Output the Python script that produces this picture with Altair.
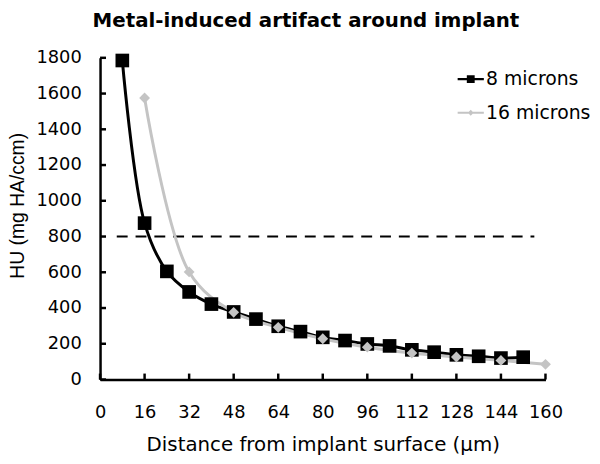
import altair as alt
import pandas as pd

x8 = [8, 16, 24, 32, 40, 48, 56, 64, 72, 80, 88, 96, 104, 112, 120, 128, 136, 144, 152]
y8 = [1785, 875, 605, 490, 422, 378, 338, 298, 268, 236, 218, 199, 188, 166, 153, 138, 130, 120, 125]
x16 = [16, 32, 48, 64, 80, 96, 112, 128, 144, 160]
y16 = [1575, 602, 376, 292, 228, 181, 148, 126, 107, 85]
series = ["8 microns", "16 microns"]
threshold = 800
thr_x = [6, 156]
x_ticks = list(range(0, 161, 16))
y_ticks = list(range(0, 1801, 200))

df = pd.DataFrame(
    {"x": x8 + x16, "y": y8 + y16, "s": [series[0]] * len(x8) + [series[1]] * len(x16)}
)
thr = pd.DataFrame({"x": thr_x, "y": [threshold, threshold]})
xt = pd.DataFrame({"x": x_ticks})
yt = pd.DataFrame({"y": y_ticks})

font = "DejaVu Sans"
font2 = "Liberation Sans"
xs = alt.Scale(domain=[0, 160], nice=False)
ys = alt.Scale(domain=[0, 1800], nice=False)
col = alt.Scale(domain=series, range=["#000000", "#c4c4c4"])
legend_shapes = alt.Scale(
    domain=series,
    range=[
        "M-1,-0.09H1V0.09H-1Z M-0.3,-0.3H0.3V0.3H-0.3Z",
        "M-1,-0.07H1V0.07H-1Z M0,-0.22L0.22,0L0,0.22L-0.22,0Z",
    ],
)

xax = alt.Axis(values=x_ticks, title="Distance from implant surface (µm)", format="d",
               labelOverlap=False, labelFlush=False, ticks=False, labelPadding=24,
               titleFontSize=20, titleFont=font, titleY=72, titleBaseline="alphabetic")
yax = alt.Axis(values=y_ticks, title="HU (mg HA/ccm)", format="d",
               labelOverlap=False, labelFlush=False, ticks=False, labelPadding=19,
               titleFontSize=19.5, titleFont=font2, titleX=-83, titleY=149,
               titleBaseline="middle", titleAlign="center", titleAngle=270)
X = alt.X("x:Q", scale=xs, axis=xax)
Y = alt.Y("y:Q", scale=ys, axis=yax)
leg_obj = alt.Legend(title=None, orient="none", legendX=361, legendY=8,
                     labelFontSize=19, labelFont=font, labelColor="black",
                     symbolSize=700, symbolStrokeWidth=0, symbolOpacity=1,
                     rowPadding=10, labelOffset=2)

xtick = alt.Chart(xt).mark_rule(color="black", strokeWidth=2.5).encode(
    x=X, y=alt.value(325), y2=alt.value(319))
ytick = alt.Chart(yt).mark_rule(color="black", strokeWidth=2.5).encode(
    y=Y, x=alt.value(0), x2=alt.value(6))
rule = alt.Chart(thr).mark_line(color="black", strokeWidth=2, strokeDash=[11, 8]).encode(x=X, y=Y)
lines = alt.Chart(df).mark_line(strokeWidth=3, interpolate="catmull-rom").encode(
    x=X, y=Y,
    color=alt.Color("s:N", scale=col, sort=series, legend=leg_obj),
)
sq = alt.Chart(df).transform_filter(alt.datum.s == series[0]).mark_point(
    shape="square", filled=True, size=190, color="black", opacity=1
).encode(x=X, y=Y)
dm = alt.Chart(df).transform_filter(alt.datum.s == series[1]).mark_point(
    shape="diamond", filled=True, size=120, color="#c4c4c4", opacity=1
).encode(x=X, y=Y)
leg = alt.Chart(df).mark_point(filled=True, opacity=0).encode(
    x=X, y=Y,
    color=alt.Color("s:N", scale=col, sort=series, legend=leg_obj),
    shape=alt.Shape("s:N", scale=legend_shapes, sort=series, legend=leg_obj),
)

chart = (
    alt.layer(xtick, ytick, rule, lines, sq, dm, leg)
    .properties(
        width=450,
        height=325,
        background="white",
        autosize=alt.AutoSizeParams(type="none"),
        padding={"left": 93, "top": 48, "right": 47, "bottom": 80},
        title=alt.TitleParams("Metal-induced artifact around implant", font=font,
                              fontSize=20, fontWeight="bold", color="black",
                              anchor="middle", offset=18, dx=-17),
    )
    .configure_view(stroke=None)
    .configure_axis(grid=False, domainColor="black", domainWidth=2.5,
                    labelFontSize=18, titleFontSize=18,
                    labelFont=font, titleFont=font, labelColor="black", titleColor="black",
                    titleFontWeight="normal")
)

chart.save("out.html", embed_options={"renderer": "svg", "actions": False})
